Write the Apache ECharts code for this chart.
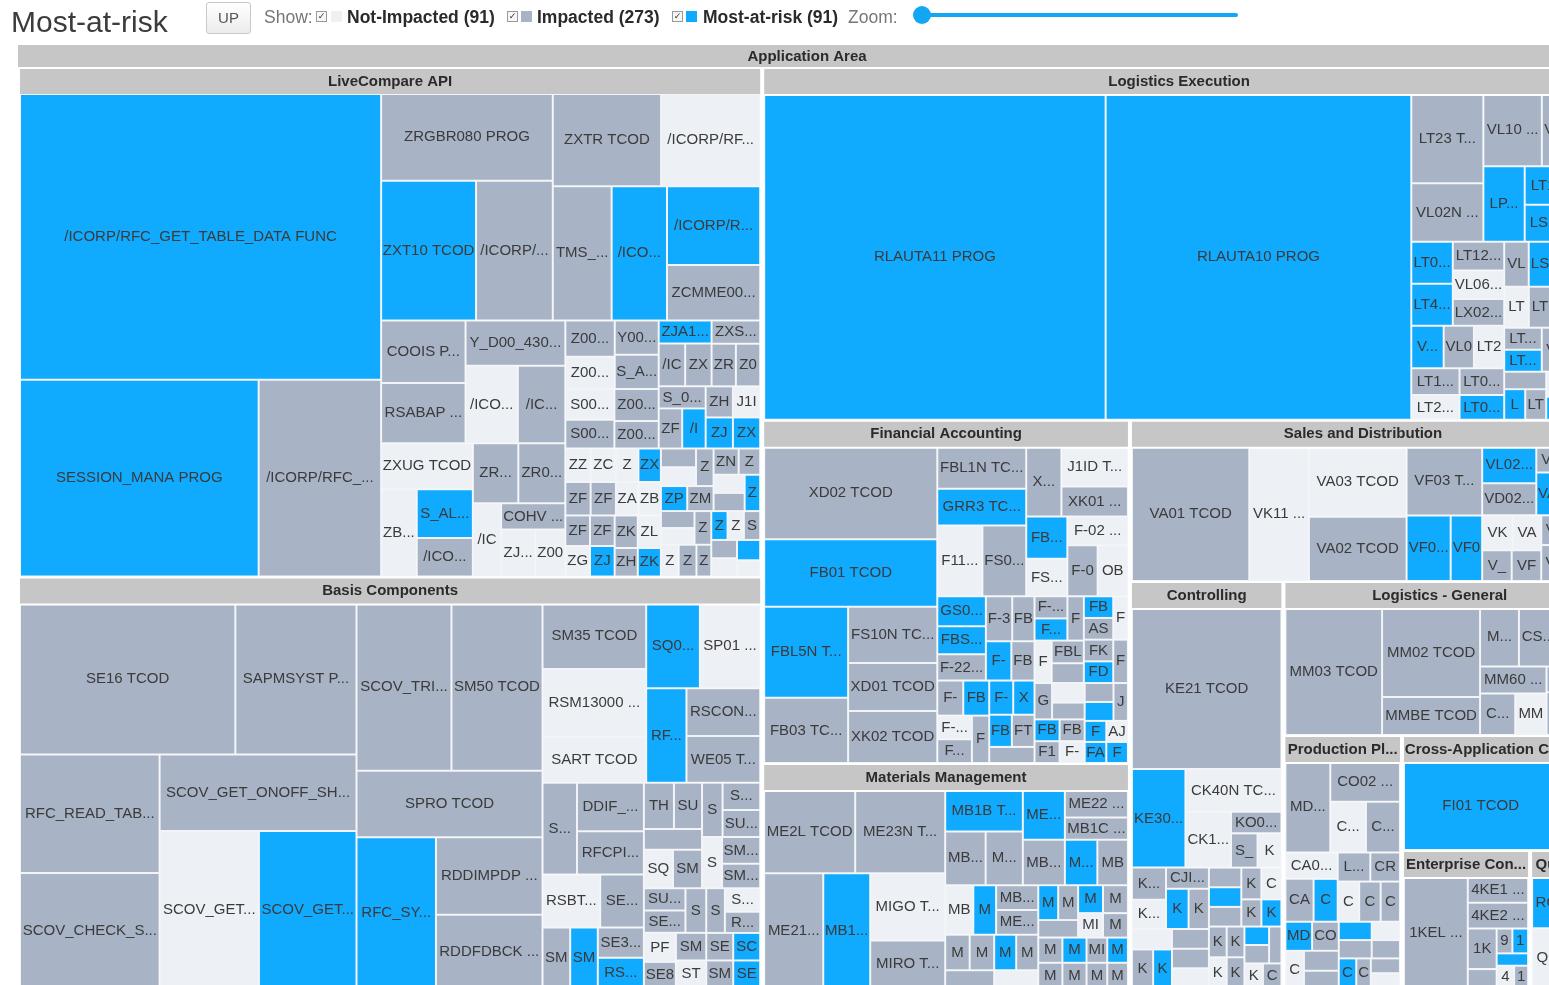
<!DOCTYPE html>
<html><head><meta charset="utf-8">
<script src="https://cdn.jsdelivr.net/npm/echarts@6/dist/echarts.min.js"></script>
<style>
html,body{margin:0;padding:0;background:#fff;width:1549px;height:985px;overflow:hidden;font-family:"Liberation Sans",Arial,sans-serif;}
#chart{position:absolute;left:0;top:0;width:1549px;height:985px;}
.t{position:absolute;white-space:nowrap;z-index:5;}
.cb{position:absolute;top:11px;width:9px;height:9px;border:1px solid #9a9a9a;background:#f6f6f6;z-index:5;font-size:9px;line-height:9px;text-align:center;color:#333;font-family:"DejaVu Sans",sans-serif;}
.sw{position:absolute;top:11px;width:11px;height:11px;z-index:5;}
.lg{top:6px;font-size:17.5px;line-height:22px;font-weight:bold;color:#2a2a2a;}
</style></head><body>
<div id="chart"></div>
<div class="t" style="left:11px;top:4px;font-size:30px;line-height:36px;color:#3c3c3c">Most-at-risk</div>
<div class="t" style="left:206px;top:2px;width:43px;height:30px;border:1px solid #c9c9c9;border-radius:3px;background:linear-gradient(#ffffff,#ececec);font-size:15px;line-height:30px;text-align:center;color:#555">UP</div>
<div class="t" style="left:264px;top:6px;font-size:17.5px;line-height:22px;color:#777">Show:</div>
<div id="legend"></div>
<div class="t" style="left:848px;top:6px;font-size:17.5px;line-height:22px;color:#777">Zoom:</div>
<div class="t" style="left:922px;top:13px;width:316px;height:4px;border-radius:2px;background:#12a6f5"></div>
<div class="t" style="left:913px;top:6px;width:18px;height:18px;border-radius:50%;background:#12a6f5"></div>
<script>
const FONT = '"Liberation Sans", Arial, sans-serif';
const statusColors = {N:'#edf1f6', I:'#a8b3c5', M:'#10aaff'};
const legendItems = [['Not-Impacted',91,'N'],['Impacted',273,'I'],['Most-at-risk',91,'M']];
const legendX = [[316,331,347],[507,521,537],[672,686,703]];

// ---------- LiveCompare API ----------
const lcLeft = [['/ICORP/RFC_GET_TABLE_DATA FUNC',1096,'M'],['SESSION_MANA PROG',499,'M'],['/ICORP/RFC_GET_DATA FUNC',256,'I']];
const lcTopLeft = [['ZRGBR080 PROG',158,'I'],['ZXT10 TCOD',141,'M'],['/ICORP/RFC_PING FUNC',114,'I']];
const lcTopRow = [['ZXTR TCOD',106,'I'],['/ICORP/RFC_READ FUNC',97,'N']];
const lcTopRest = [['TMS_MGR_IMPORT FUNC',84,'I'],['/ICORP/OBJ_LIST FUNC',79,'M'],['/ICORP/RFC_SYS FUNC',78,'M'],['ZCMME001 PROG',55,'I']];
const lcBlCol = [['COOIS PROG',56,'I'],['RSABAP PROG',54,'I']];
const lcBlY = [['Y_D00_430 PROG',48,'I'],['/ICORP/OBJ FUNC',43,'N'],['/ICORP/DEV FUNC',39,'I']];
const lcBlLeft = [['ZXUG TCOD',45,'N'],['ZB01 TCOD',33,'N'],['S_ALR_87 TCOD',29,'M'],['/ICORP/TAB FUNC',23,'I']];
const lcBlRow = [['ZRS01 TCOD',29,'I'],['ZR02 TCOD',30,'I']];
const lcBlRest = [['/ICORP/X FUNC',22,'N'],['COHV TCOD',18,'I'],['ZJ01 TCOD',17,'N'],['Z001 TCOD',15,'N']];
const lcSmall = [['Z002 TCOD',19,'I'],['Z003 TCOD',17,'N'],['Y001 TCOD',16,'I'],['S_ALR_01 TCOD',16,'I'],['S002 TCOD',16,'N'],['S001 TCOD',15,'I'],['Z004 TCOD',15,'I'],['Z005 TCOD',13,'I'],['ZJA1 TCOD',13,'M'],['/ICORP/ZZ FUNC',12,'I'],['ZX01 TCOD',12,'I'],['ZXSZ TCOD',12,'I'],['ZR03 TCOD',11,'I'],['Z006 TCOD',11,'I'],['S_01 TCOD',11,'I'],['ZFIPAY TCOD',10,'I'],['ZH01',9,'I'],['J1IEX TCOD',9,'N'],['ZR04 TCOD',8,'N'],['ZX02 TCOD',8,'M']];
const lcTiny = [['/ICORP/OBJ2 FUNC',10,'M'],['ZJ11 TCOD',9,'M'],['ZX03 TCOD',9,'M'],['ZZT1 TCOD',9,'N'],['ZC01 TCOD',9,'N'],['ZFI01 TCOD',9,'I'],['ZFI02 TCOD',9,'I'],['ZA01 TCOD',8,'N'],['ZB02 TCOD',8,'N'],['ZF01 PROG',8,'I'],['ZF02 PROG',8,'I'],['ZG01 PROG',8,'N'],['ZJ02 TCOD',8,'M'],['ZK02 TCOD',8,'I'],['ZL02 TCOD',8,'N'],['ZH02 PROG',7,'I'],['ZK01 PROG',7,'M'],['ZL01 PROG',7,'I'],['ZM01 PROG',7,'N'],['ZN01 PROG',7,'I'],['ZP01 PROG',7,'M'],['ZM02 TCOD',7,'I'],['ZN02 TCOD',7,'I'],['ZQ01 PROG',6,'I'],['ZR01 PROG',6,'N'],['ZS01 PROG',6,'I'],['ZT01 PROG',6,'M'],['ZU01 PROG',6,'I'],['ZV01 PROG',6,'N'],['ZW01 PROG',6,'I'],['ZP02 TCOD',6,'N'],['ZQ02 TCOD',6,'I'],['ZX11 PROG',5,'I'],['ZY01 PROG',5,'M'],['ZZ01 PROG',5,'N'],['S_A1 TCOD',5,'I'],['S_A2 TCOD',5,'I'],['O001 TCOD',5,'N'],['Z2 TCOD',5,'M'],['Z9 TCOD',4,'N']];

// ---------- Basis Components ----------
const bcTopRow = [['SE16 TCOD',350,'I'],['SAPMSYST PROG',197,'I']];
const bcMidCol = [['RFC_READ_TABLE FUNC',178,'I'],['SCOV_CHECK_SYSTEM FUNC',173,'I']];
const bcScov = [['SCOV_GET_ONOFF_SHADOW FUNC',162,'I'],['SCOV_GET_STATUS FUNC',168,'N'],['SCOV_GET_RESULTS FUNC',165,'M']];
const bcTriRow = [['SCOV_TRIGGER FUNC',171,'I'],['SM50 TCOD',164,'I']];
const bcSpro = [['SPRO TCOD',133,'I'],['RFC_SYSTEM_INFO FUNC',129,'M'],['RDDIMPDP PROG',89,'I'],['RDDFDBCK PROG',84,'I']];
const bcSmCol = [['SM35 TCOD',73,'I'],['RSM13000 PROG',76,'N'],['SART TCOD',51,'N']];
const bcSqRow = [['SQ01 TCOD',49,'M'],['SP01 TCOD',55,'N']];
const bcRf = [['RFC_PING FUNC',41,'M'],['RSCONN01 PROG',38,'I'],['WE05 TCOD',37,'I']];
const bcBlTop = [['SQ02 TCOD',34,'I'],['DDIF_FIELDINFO FUNC',35,'I'],['RFCPING PROG',31,'I']];
const bcBlRow = [['RSBTCDEL PROG',33,'N'],['SE16N TCOD',25,'I']];
const bcBlRest = [['SM02 TCOD',18,'I'],['SM13 TCOD',18,'M'],['SE36 TCOD',15,'I'],['RSBDCSUB PROG',15,'M']];
const bcSmall = [['SQ00 TCOD',12,'N'],['RZ10 TCOD',8,'I'],['SM66 TCOD',10,'I'],['THUSRINFO FUNC',15,'I'],['SWU3 TCOD',11,'I'],['SU56 TCOD',11,'I']];
const bcTiny = [['SU01 TCOD',14,'I'],['SE38 TCOD',13,'I'],['SM37 TCOD',12,'I'],['SE11 TCOD',12,'I'],['ST22 TCOD',11,'N'],['SM21 TCOD',11,'I'],['SU53 TCOD',10,'I'],['SE37 TCOD',10,'I'],['SM30 TCOD',10,'I'],['PFCG TCOD',10,'N'],['SE80 TCOD',9,'I'],['SM59 TCOD',9,'I'],['ST05 TCOD',9,'N'],['SE93 TCOD',9,'I'],['SM12 TCOD',9,'N'],['SE24 TCOD',8,'I'],['SCC4 TCOD',8,'M'],['SM36 TCOD',8,'I'],['SE09 TCOD',8,'M']];

// ---------- Logistics Execution ----------
const leBig = [['RLAUTA11 PROG',1211,'M'],['RLAUTA10 PROG',1084,'M']];
const leColA = [['LT23 TCOD',70,'I'],['VL02N TCOD',46,'I']];
const leRow = [['VL10 TCOD',46,'I'],['VL10A TCOD',41,'I']];
const leRest = [['LP11 TCOD',34,'M'],['LT12 TCOD',29,'M'],['LS24 TCOD',28,'M']];
const leSmall = [['LT03 TCOD',19,'M'],['LT42 TCOD',19,'M'],['LT12A TCOD',16,'I'],['VL06 TCOD',16,'N'],['LX02 TCOD',15,'I'],['VL10B TCOD',15,'M'],['VL01 TCOD',14,'I'],['LT24 TCOD',14,'N'],['LT21 TCOD',13,'N'],['LS26 TCOD',11,'M'],['LT22 TCOD',10,'I'],['VL03 TCOD',10,'I']];
const leTiny = [['LT10 TCOD',14,'I'],['LT01 TCOD',13,'I'],['LT0A TCOD',12,'M'],['VL06O TCOD',12,'I'],['LT2A TCOD',11,'N'],['LT2B TCOD',10,'I'],['LT2C TCOD',10,'N'],['VL03N TCOD',10,'I'],['LT15 TCOD',9,'I'],['LT11 TCOD',9,'M'],['VL31N TCOD',9,'I'],['LX03 TCOD',8,'N'],['LT31 TCOD',8,'I'],['VT01N TCOD',8,'I'],['LS2A TCOD',7,'M'],['LT25 TCOD',7,'I'],['LX0B TCOD',7,'N'],['VL32N TCOD',6,'I'],['LT04 TCOD',6,'M'],['LB10 TCOD',6,'I']];

// ---------- Financial Accounting ----------
const faTop = [['XD02 TCOD',176,'I'],['FB01 TCOD',128,'M']];
const faCol = [['FBL5N TCOD',84,'M'],['FB03 TCOD',60,'I']];
const faCust = [['FS10N TCOD',55,'I'],['XD01 TCOD',47,'I'],['XK02 TCOD',51,'I']];
const faMid = [['FBL1N TCOD',41,'I'],['GRR3 TCOD',36,'M'],['F110 TCOD',35,'N'],['FS00 TCOD',34,'I']];
const faXd = ['XD03 TCOD',27,'I'];
const faJ1 = [['J1ID TCOD',29,'N'],['XK01 TCOD',22,'I']];
const faFb6 = [['FB60 TCOD',19,'M'],['FSS0 TCOD',17,'N']];
const faF02 = [['F-02 TCOD',19,'N'],['F-03A TCOD',17,'I'],['OB08 TCOD',17,'N']];
const faSmall = [['GS01 TCOD',16,'M'],['FBS1 TCOD',15,'M'],['F-22 TCOD',14,'I'],['F-30 TCOD',13,'I'],['FB50 TCOD',11,'I'],['F-13 TCOD',11,'M'],['FBZ1 TCOD',10,'I'],['XK03 TCOD',8,'M'],['FB65 TCOD',8,'M'],['FTXP TCOD',8,'I'],['FK02 TCOD',5,'M']];
const faTiny = [['F-03 TCOD',10,'I'],['FB02 TCOD',10,'M'],['F-04 TCOD',9,'N'],['FB08 TCOD',9,'I'],['FB09 TCOD',9,'I'],['F-28 TCOD',9,'M'],['FK03 TCOD',8,'I'],['F-43 TCOD',8,'I'],['FB1D TCOD',8,'M'],['F-32 TCOD',8,'I'],['FBRA TCOD',8,'N'],['FBL3N TCOD',8,'I'],['F-44 TCOD',7,'I'],['FBV0 TCOD',7,'M'],['AS03 TCOD',7,'I'],['F-47 TCOD',7,'N'],['FK10N TCOD',7,'I'],['FD10N TCOD',7,'M'],['F-53 TCOD',7,'I'],['GS02 TCOD',7,'I'],['F-58 TCOD',7,'N'],['FBE1 TCOD',6,'I'],['FB05 TCOD',6,'M'],['F110S TCOD',6,'I'],['FBCJ TCOD',6,'I'],['F-51 TCOD',6,'N'],['FCH1 TCOD',6,'I'],['OB52 TCOD',6,'M'],['J1IH TCOD',6,'I'],['FAGLB03 TCOD',5,'M'],['AJAB TCOD',5,'N'],['FB70 TCOD',5,'M']];

// ---------- Materials Management ----------
const mmRow = [['ME2L TCOD',87,'I'],['ME23N TCOD',86,'I']];
const mmCol = [['ME21N TCOD',78,'I'],['MB1A TCOD',62,'M'],['MIGO TCOD',58,'N'],['MIRO TCOD',41,'I']];
const mmA = [['MB1B TCOD',37,'M'],['MB01 TCOD',25,'I'],['ME2M TCOD',23,'I']];
const mmB = [['ME22N TCOD',24,'M'],['MB02 TCOD',22,'I']];
const mmC = [['ME22 TCOD',20,'I'],['MB1C TCOD',16,'I'],['MB11 TCOD',17,'M'],['MB21 TCOD',16,'I']];
const mmSmall = [['MB04 TCOD',16,'N'],['MB0B TCOD',13,'M'],['MB05 TCOD',12,'I'],['ME41 TCOD',12,'I'],['MB26 TCOD',10,'I'],['MF01 TCOD',8,'M']];
const mmTiny = [['MB51 TCOD',10,'I'],['MB52 TCOD',10,'I'],['ME2K TCOD',9,'M'],['MB03 TCOD',9,'I'],['ME2N TCOD',9,'N'],['ME51N TCOD',8,'I'],['ME53N TCOD',8,'I'],['MB5B TCOD',8,'M'],['ME2C TCOD',8,'I'],['MIR4 TCOD',7,'N'],['MB31 TCOD',7,'I'],['ME9F TCOD',7,'I'],['MB90 TCOD',7,'M'],['ME28 TCOD',7,'I'],['MR8M TCOD',7,'I'],['MI01 TCOD',6,'I'],['MB5T TCOD',6,'M'],['ME31K TCOD',6,'I'],['MMBE2 TCOD',6,'I']];

// ---------- Sales and Distribution ----------
const sdBig = [['VA01 TCOD',191,'I'],['VK11 TCOD',97,'N']];
const sdCol = [['VA03 TCOD',83,'N'],['VA02 TCOD',76,'I']];
const sdVf = [['VF03 TCOD',63,'I'],['VF01 TCOD',35,'M'],['VF02 TCOD',25,'M']];
const sdSmall = [['VL02 TCOD',24,'M'],['VD02 TCOD',21,'I'],['VKM1 TCOD',13,'N'],['V_V2 TCOD',11,'I'],['VD01 TCOD',9,'I'],['VKM3 TCOD',8,'I']];
const sdTiny = [['VL01N TCOD',18,'I'],['VA05 TCOD',16,'M'],['VA11 TCOD',14,'I'],['VA21 TCOD',12,'N'],['VF11 TCOD',11,'I'],['VA22 TCOD',10,'I'],['VD03 TCOD',8,'M'],['VK13 TCOD',7,'I']];

// ---------- Controlling ----------
const coKe21 = ['KE21 TCOD',265,'I'];
const coKe30 = ['KE30 TCOD',58,'M'];
const coCk = [['CK40N TCOD',45,'N'],['CK11 TCOD',28,'N'],['KO02 TCOD',12,'I'],['S_ALR_CO TCOD',10,'I'],['KOB2 TCOD',9,'N']];
const coTiny = [['KSB1 TCOD',12,'I'],['KOB1 TCOD',11,'N'],['CJI3 TCOD',10,'I'],['KE24 TCOD',10,'M'],['KS03 TCOD',9,'I'],['KO03 TCOD',9,'N'],['KSH3 TCOD',9,'I'],['KE30N TCOD',8,'M'],['KP06 TCOD',8,'I'],['CK11N TCOD',8,'I'],['KB21N TCOD',8,'N'],['KEA0 TCOD',7,'I'],['KS02 TCOD',7,'M'],['KO88 TCOD',7,'I'],['KAH3 TCOD',7,'I'],['CK13N TCOD',7,'N'],['KSBT TCOD',6,'I'],['KE25 TCOD',6,'M'],['KA03 TCOD',6,'I'],['KL03 TCOD',6,'I'],['KSV5 TCOD',6,'N'],['KP26 TCOD',6,'I'],['KB11N TCOD',5,'M'],['KO01 TCOD',5,'I'],['KE26 TCOD',5,'I'],['KS01 TCOD',5,'N'],['CK24 TCOD',5,'I']];

// ---------- Logistics - General ----------
const lgMm03 = ['MM03 TCOD',151,'I'];
const lgCol = [['MM02 TCOD',107,'I'],['MMBE TCOD',46,'I']];
const lgSmall = [['MM01 TCOD',28,'I'],['CS03 TCOD',28,'I'],['CS01 TCOD',26,'I'],['MM60 TCOD',22,'I'],['CS11 TCOD',18,'I'],['MM17 TCOD',16,'N'],['CS02 TCOD',15,'I'],['CS12 TCOD',14,'I'],['MM50 TCOD',11,'M']];

// ---------- Production Planning ----------
const ppTop = [['MD04 TCOD',47,'I'],['CO02 TCOD',32,'I'],['CO03 TCOD',21,'N'],['CO01 TCOD',20,'I']];
const ppSmall = [['CA03 TCOD',16,'N'],['CA02 TCOD',14,'I'],['CO11N TCOD',12,'M'],['LPK1 TCOD',11,'I'],['CR03 TCOD',10,'I'],['CS13 TCOD',10,'N'],['CM01 TCOD',9,'I']];
const ppTiny = [['CO03A TCOD',10,'I'],['MD04A TCOD',9,'M'],['CO01A TCOD',9,'I'],['CR03A TCOD',8,'N'],['MD61 TCOD',8,'I'],['CA03A TCOD',7,'I'],['CO11 TCOD',7,'M'],['LPK2 TCOD',7,'I'],['MD02 TCOD',6,'N'],['CA23 TCOD',6,'I'],['CM01A TCOD',6,'M'],['CS15 TCOD',5,'I'],['MF50 TCOD',5,'I'],['C202 TCOD',5,'N']];

// ---------- Cross-Application / Enterprise / Quality ----------
const caItems = [['FI01 TCOD',180,'M'],['FI02 TCOD',22,'I'],['FI03 TCOD',21,'N']];
const ecBig = [['1KEL TCOD',91,'I'],['4KE1 TCOD',20,'I'],['4KE2 TCOD',20,'I']];
const ecRest = [['1KE4 TCOD',15,'I'],['4KE5 TCOD',7,'I'],['9KE0 TCOD',5,'I'],['1KE1 TCOD',5,'M'],['1KE2 TCOD',5,'M'],['4KE8 TCOD',5,'N'],['1KE5 TCOD',4,'I']];
const qmItems = [['RQEEAL10 PROG',42,'M'],['QA32 TCOD',26,'N'],['STAT TCOD',18,'I'],['QM01 TCOD',5,'I']];

// ---------- tree building ----------
function leaf(e){return {name:e[0],value:e[1],itemStyle:{color:statusColors[e[2]],borderWidth:1,borderColor:'#f2f4f7'}};}
function toNode(x){return (Array.isArray(x)&&typeof x[0]==='string')?leaf(x):x;}
function slab(...parts){return {name:'',children:parts.map(toNode),itemStyle:{borderWidth:0,gapWidth:0,borderColor:'#ffffff'},upperLabel:{show:false},label:{show:false}};}
function slabOf(arr){return slab(...arr);}
function bin(items){
  const arr=items.slice().sort((a,b)=>b[1]-a[1]);
  const sums=[0]; arr.forEach((e,i)=>sums.push(sums[i]+e[1]));
  function part(i,j){
    if(i>=j-1) return leaf(arr[i]);
    const value=sums[j]-sums[i], target=value/2+sums[i];
    let k=i+1, hi=j-1;
    while(k<hi){const mid=(k+hi)>>>1; if(sums[mid]<target)k=mid+1; else hi=mid;}
    if((target-sums[k-1])<(sums[k]-target)&&i+1<k)--k;
    return slab(part(i,k),part(k,j));
  }
  return part(0,arr.length);
}
function headerLabel(h){return {show:true,height:h,position:'inside',color:'#2b2b2b',fontWeight:'bold',fontSize:15,fontFamily:FONT,backgroundColor:'#c6c6c6',borderColor:'#ffffff',borderWidth:2,padding:0,lineHeight:h,overflow:'truncate',ellipsis:'...'};}
function group(name,parts){return {name,children:parts.map(toNode),itemStyle:{borderWidth:2,borderColor:'#ffffff',gapWidth:0},upperLabel:headerLabel(25),label:{show:false}};}

const lcBottomLeft = slab(slab(slabOf(lcBlCol), slabOf(lcBlY)), slab(slabOf(lcBlLeft), slab(slabOf(lcBlRow), ...lcBlRest)));
const LC = group('LiveCompare API',[slabOf(lcLeft), slab(slab(slabOf(lcTopLeft), slab(slabOf(lcTopRow), ...lcTopRest)), slab(lcBottomLeft, bin(lcSmall.concat(lcTiny))))]);
const bcBottomLeft = slab(slabOf(bcBlTop), slab(slabOf(bcBlRow), slabOf(bcBlRest)));
const BC = group('Basis Components',[slab(slab(slabOf(bcTopRow), slab(slabOf(bcMidCol), slabOf(bcScov))), slab(slabOf(bcTriRow), ...bcSpro)), slab(slab(slabOf(bcSmCol), slab(slabOf(bcSqRow), ...bcRf)), slab(bcBottomLeft, bin(bcSmall.concat(bcTiny))))]);
const LE = group('Logistics Execution',[...leBig, slab(slab(slabOf(leColA), slab(slabOf(leRow), ...leRest)), bin(leSmall.concat(leTiny)))]);
const FA = group('Financial Accounting',[slab(...faTop, slab(slabOf(faCol), ...faCust)), slab(slab(slabOf(faMid), slab(slab(faXd, slabOf(faJ1)), slab(slabOf(faFb6), ...faF02))), bin(faSmall.concat(faTiny)))]);
const MM = group('Materials Management',[slab(slabOf(mmRow), ...mmCol), slab(slab(slabOf(mmA), slabOf(mmB), slabOf(mmC)), bin(mmSmall.concat(mmTiny)))]);
const SD = group('Sales and Distribution',[...sdBig, slabOf(sdCol), slab(slabOf(sdVf), bin(sdSmall.concat(sdTiny)))]);
const CO = group('Controlling',[coKe21, slab(coKe30, slabOf(coCk)), bin(coTiny)]);
const LG = group('Logistics - General',[lgMm03, slabOf(lgCol), bin(lgSmall)]);
const PP = group('Production Planning',[slabOf(ppTop), bin(ppSmall.concat(ppTiny))]);
const CA = group('Cross-Application Components', caItems);
const EC = group('Enterprise Controlling',[...ecBig, bin(ecRest)]);
const QM = group('Quality Management', qmItems);

const root = {name:'Application Area', children:[slab(LC,BC), LE, slab(FA,MM), SD, CO, LG, PP, CA, EC, QM], itemStyle:{borderWidth:0,borderColor:'#ffffff',gapWidth:0}, upperLabel:headerLabel(24), label:{show:false}};

// legend (HTML text)
const lg = document.getElementById('legend');
legendItems.forEach((it,i)=>{
  const [cbx,swx,tx]=legendX[i];
  const cb=document.createElement('span'); cb.className='cb'; cb.style.left=cbx+'px'; cb.textContent='\u2713'; lg.appendChild(cb);
  const sw=document.createElement('span'); sw.className='sw'; sw.style.left=swx+'px'; sw.style.background=statusColors[it[2]]; lg.appendChild(sw);
  const t=document.createElement('div'); t.className='t lg'; t.style.left=tx+'px'; t.textContent=it[0]+' ('+it[1]+')'; lg.appendChild(t);
});

const chart = echarts.init(document.getElementById('chart'), null, {renderer:'canvas'});
chart.setOption({
  animation:false,
  textStyle:{fontFamily:FONT},
  series:[{
    type:'treemap',
    left:18, top:45, width:1578, height:945,
    roam:false, nodeClick:false, breadcrumb:{show:false},
    sort:false, squareRatio:1e-6, visibleMin:0,
    itemStyle:{borderWidth:0,gapWidth:0,borderColor:'#ffffff'},
    label:{show:true,position:'inside',color:'#3b3b3b',fontSize:15,fontFamily:FONT,padding:[2,0],overflow:'truncate',ellipsis:'...'},
    upperLabel:{show:false},
    emphasis:{disabled:true},
    data:[root]
  }]
});
</script>
</body></html>
